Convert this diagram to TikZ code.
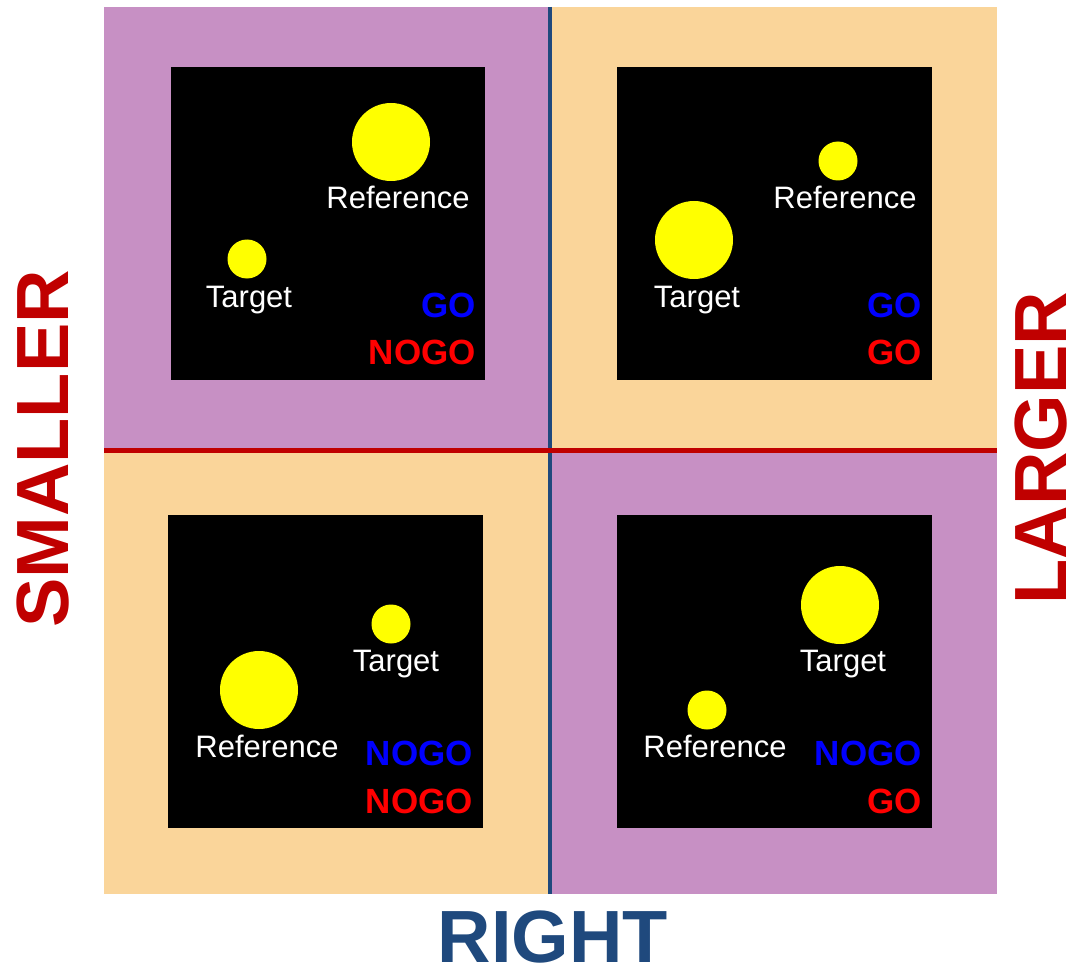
\documentclass[tikz,border=0pt]{standalone}
\usepackage{fontspec}
\setmainfont{Liberation Sans}
\definecolor{qpurple}{RGB}{199,144,196}
\definecolor{qorange}{RGB}{250,213,154}
\definecolor{axred}{RGB}{192,0,0}
\definecolor{axnavy}{RGB}{31,73,125}
\definecolor{goblue}{RGB}{0,0,255}
\definecolor{gored}{RGB}{255,0,0}
\definecolor{sunyellow}{RGB}{255,255,0}
\begin{document}
\begin{tikzpicture}[x=1pt,y=-1pt,
  panel/.style={fill=black},
  sun/.style={circle,fill=sunyellow,draw=none,inner sep=0pt},
  lbl/.style={text=white,anchor=base,inner sep=0pt,font=\fontsize{31}{36}\selectfont},
  dec/.style={anchor=base east,inner sep=0pt,font=\bfseries\fontsize{35}{40}\selectfont},
  axlabel/.style={inner sep=0pt,anchor=base,text depth=0pt,font=\bfseries\fontsize{74}{80}\selectfont}]
\useasboundingbox (0,0) rectangle (1080,971);
\fill[white] (0,0) rectangle (1080,971);
% quadrants
\fill[qpurple] (104,7) rectangle (550,450);
\fill[qorange] (550,7) rectangle (997,450);
\fill[qorange] (104,450) rectangle (550,894);
\fill[qpurple] (550,450) rectangle (997,894);
% panels
\fill[panel] (171,67) rectangle (485,380);
\fill[panel] (617,67) rectangle (932,380);
\fill[panel] (168,515) rectangle (483,828);
\fill[panel] (617,515) rectangle (932,828);
% dividers
\coordinate (vtop) at (550,7);
\coordinate (vbot) at (550,894);
\coordinate (hl) at (104,450);
\coordinate (hr) at (997,450);
\draw[axnavy,line width=4.5pt] (vtop) -- (vbot);
\draw[axred,line width=5pt] (hl) -- (hr);
% top-left
\node[sun,minimum size=78pt] (tlref) at (391,142) {};
\node[sun,minimum size=39pt] (tltgt) at (247,259) {};
\node[lbl] (tlreft) at (398,208) {Reference};
\node[lbl] (tltgtt) at (249,307) {Target};
\node[dec,text=goblue] (tlgo) at (476,317) {GO};
\node[dec,text=gored] (tlnogo) at (476,364) {NOGO};
% top-right
\node[sun,minimum size=39pt] (trref) at (838,161) {};
\node[sun,minimum size=78pt] (trtgt) at (694,240) {};
\node[lbl] (trreft) at (845,208) {Reference};
\node[lbl] (trtgtt) at (697,307) {Target};
\node[dec,text=goblue] (trgo) at (922,317) {GO};
\node[dec,text=gored] (trgo2) at (922,364) {GO};
% bottom-left
\node[sun,minimum size=78pt] (blref) at (259,690) {};
\node[sun,minimum size=39pt] (bltgt) at (391,624) {};
\node[lbl] (bltgtt) at (396,671) {Target};
\node[lbl] (blreft) at (267,757) {Reference};
\node[dec,text=goblue] (blnogo) at (473,765) {NOGO};
\node[dec,text=gored] (blnogo2) at (473,813) {NOGO};
% bottom-right
\node[sun,minimum size=78pt] (brtgt) at (840,605) {};
\node[sun,minimum size=39pt] (brref) at (707,710) {};
\node[lbl] (brtgtt) at (843,671) {Target};
\node[lbl] (brreft) at (715,757) {Reference};
\node[dec,text=goblue] (brnogo) at (922,765) {NOGO};
\node[dec,text=gored] (brgo) at (922,813) {GO};
% axis labels
\node[axlabel,text=axred,rotate=90] (smaller) at (68,449) {SMALLER};
\node[axlabel,text=axred,rotate=90] (larger) at (1066,448) {LARGER};
\node[axlabel,text=axnavy] (right) at (553,962) {RIGHT};
\end{tikzpicture}
\end{document}
